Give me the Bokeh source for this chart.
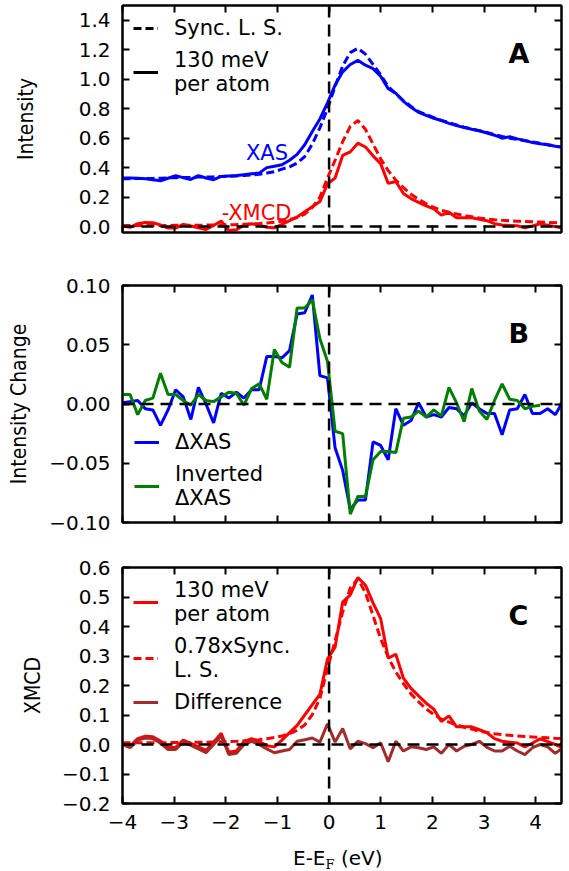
from bokeh.plotting import figure
from bokeh.models import (Range1d, LinearAxis, FixedTicker, Span, Label,
                          Legend, LegendItem, Div)
from bokeh.layouts import column
from bokeh.embed import file_html
from bokeh.resources import INLINE

# ---------------- data ----------------
energy = [-4.000, -3.853, -3.706, -3.559, -3.412, -3.265, -3.118, -2.971, -2.824, -2.677,
          -2.530, -2.383, -2.236, -2.089, -1.942, -1.795, -1.648, -1.501, -1.354, -1.207,
          -1.060, -0.913, -0.766, -0.619, -0.472, -0.325, -0.178, -0.031, 0.116, 0.263,
          0.410, 0.557, 0.704, 0.851, 0.998, 1.145, 1.292, 1.439, 1.586, 1.733,
          1.880, 2.027, 2.174, 2.321, 2.468, 2.615, 2.762, 2.909, 3.056, 3.203,
          3.350, 3.497, 3.644, 3.791, 3.938, 4.085, 4.232, 4.379, 4.526]

xas_130 = [0.329, 0.329, 0.328, 0.325, 0.318, 0.311, 0.328, 0.345, 0.332, 0.320,
           0.346, 0.330, 0.318, 0.340, 0.343, 0.346, 0.352, 0.358, 0.363, 0.400,
           0.410, 0.420, 0.450, 0.490, 0.555, 0.645, 0.730, 0.840, 0.960, 1.050,
           1.100, 1.128, 1.095, 1.072, 1.020, 0.935, 0.905, 0.850, 0.810, 0.775,
           0.755, 0.735, 0.720, 0.700, 0.685, 0.672, 0.660, 0.650, 0.635, 0.620,
           0.600, 0.610, 0.595, 0.585, 0.570, 0.562, 0.555, 0.545, 0.538]

xas_sync = [0.325, 0.325, 0.326, 0.326, 0.327, 0.328, 0.330, 0.332, 0.333, 0.334,
            0.336, 0.337, 0.338, 0.340, 0.342, 0.344, 0.347, 0.350, 0.355, 0.363,
            0.372, 0.390, 0.405, 0.430, 0.475, 0.560, 0.670, 0.800, 0.950, 1.090,
            1.180, 1.210, 1.170, 1.100, 1.030, 0.950, 0.900, 0.855, 0.815, 0.780,
            0.760, 0.740, 0.720, 0.705, 0.690, 0.675, 0.662, 0.650, 0.638, 0.625,
            0.612, 0.600, 0.592, 0.583, 0.574, 0.565, 0.556, 0.547, 0.538]

xmcd_130 = [0.004, -0.005, 0.020, 0.028, 0.026, 0.012, -0.010, -0.010, 0.015, 0.004,
            -0.008, -0.020, 0.008, 0.038, -0.026, -0.022, 0.010, 0.020, 0.010, -0.004,
            -0.008, 0.015, 0.040, 0.065, 0.100, 0.135, 0.170, 0.290, 0.330, 0.483,
            0.507, 0.566, 0.540, 0.480, 0.427, 0.293, 0.306, 0.225, 0.190, 0.165,
            0.140, 0.120, 0.078, 0.097, 0.060, 0.060, 0.060, 0.050, 0.040, 0.020,
            0.011, 0.008, 0.005, -0.008, 0.005, 0.019, 0.010, 0.000, -0.011]

xmcd_sync = [0.008, 0.008, 0.008, 0.008, 0.008, 0.008, 0.008, 0.009, 0.009, 0.009,
             0.010, 0.010, 0.011, 0.012, 0.013, 0.014, 0.016, 0.018, 0.021, 0.025,
             0.030, 0.037, 0.047, 0.062, 0.085, 0.130, 0.200, 0.330, 0.450, 0.576,
             0.680, 0.720, 0.660, 0.560, 0.460, 0.380, 0.315, 0.265, 0.220, 0.185,
             0.155, 0.130, 0.110, 0.097, 0.085, 0.075, 0.067, 0.058, 0.052, 0.047,
             0.043, 0.040, 0.037, 0.035, 0.033, 0.031, 0.029, 0.027, 0.026]

sync_scale = 0.78
xmcd_sync_scaled = [sync_scale * v for v in xmcd_sync]

xmcd_diff = [0.000, -0.011, 0.015, 0.022, 0.020, 0.005, -0.017, -0.017, 0.008, -0.003,
             -0.015, -0.028, 0.000, 0.030, -0.034, -0.030, 0.000, 0.011, 0.000, -0.015,
             -0.028, -0.022, -0.017, 0.011, 0.016, 0.022, 0.008, 0.070, 0.008, 0.054,
             -0.015, 0.011, 0.003, -0.011, 0.006, -0.058, 0.011, -0.022, -0.008, -0.011,
             -0.017, -0.008, -0.030, 0.000, -0.022, -0.006, 0.000, 0.011, -0.010, -0.022,
             -0.022, -0.006, -0.022, -0.034, -0.011, 0.000, -0.008, -0.030, -0.011]

dxas = [0.001, 0.002, 0.003, -0.004, -0.005, -0.018, -0.005, 0.012, 0.006, -0.013,
        0.014, 0.000, -0.016, 0.009, 0.005, 0.010, 0.005, 0.012, 0.012, 0.040,
        0.040, 0.039, 0.045, 0.076, 0.077, 0.092, 0.024, 0.022, -0.037, -0.056,
        -0.089, -0.081, -0.081, -0.032, -0.035, -0.047, -0.004, -0.018, -0.014, 0.001,
        -0.011, -0.009, -0.011, -0.003, -0.004, -0.010, 0.001, -0.004, -0.008, -0.008,
        -0.026, -0.005, -0.004, 0.008, -0.008, -0.008, -0.004, -0.009, 0.002]

dxas_inverted = [0.008, 0.008, -0.009, 0.003, 0.005, 0.026, 0.008, 0.008, 0.003, -0.001,
                 0.008, 0.003, 0.002, 0.006, 0.010, 0.009, -0.001, 0.013, 0.017, 0.004,
                 0.046, 0.035, 0.031, 0.081, 0.081, 0.088, 0.055, 0.036, -0.023, -0.025,
                 -0.093, -0.078, -0.078, -0.047, -0.040, -0.040, -0.041, -0.012, -0.011, -0.006,
                 -0.011, -0.005, -0.010, 0.014, 0.001, -0.015, 0.013, -0.006, -0.013, 0.003,
                 0.017, 0.004, 0.003, -0.004, -0.002, -0.001]

x_ticks = [-4, -3, -2, -1, 0, 1, 2, 3, 4]
x_tick_labels = ["\u22124", "\u22123", "\u22122", "\u22121", "0", "1", "2", "3", "4"]
yA_ticks = [0.0, 0.2, 0.4, 0.6, 0.8, 1.0, 1.2, 1.4]
yA_tick_labels = ["0.0", "0.2", "0.4", "0.6", "0.8", "1.0", "1.2", "1.4"]
yB_ticks = [-0.1, -0.05, 0.0, 0.05, 0.1]
yB_tick_labels = ["\u22120.10", "\u22120.05", "0.00", "0.05", "0.10"]
yC_ticks = [-0.2, -0.1, 0.0, 0.1, 0.2, 0.3, 0.4, 0.5, 0.6]
yC_tick_labels = ["\u22120.2", "\u22120.1", "0.0", "0.1", "0.2", "0.3", "0.4", "0.5", "0.6"]

# ---------------- styling ----------------
FONT = "DejaVu Sans"
YLABEL_FONT = "DejaVu Sans Condensed, Liberation Sans Narrow, DejaVu Sans"
BLUE = "#0000ff"
RED = "#ff0000"
GREEN = "#008000"
BROWN = "#a52a2a"
LW = 3
DASH = "8 4"
REF_DASH = "12 7"
BORDER_L = 122
FRAME_W = 439
BORDER_R = 8
NAN = float("nan")


def style_axis(ax, ticks, labels, show):
    ax.ticker = FixedTicker(ticks=ticks)
    ax.axis_line_color = "black"
    ax.axis_line_width = 2
    ax.major_tick_in = 7
    ax.major_tick_out = 0
    ax.major_tick_line_color = "black"
    ax.major_tick_line_width = 2
    ax.minor_tick_line_color = None
    if show:
        ax.major_label_overrides = dict(zip(ticks, labels))
        ax.major_label_text_font = FONT
        ax.major_label_text_font_size = "20px"
        ax.major_label_text_color = "black"
        ax.major_label_standoff = 12
    else:
        ax.major_label_overrides = {t: "" for t in ticks}
        ax.major_label_text_font_size = "1px"
        ax.major_label_standoff = 0


def make_fig(letter, frame_h, top, bottom, y_lo, y_hi, yticks, ylabels, ylabel,
             label_standoff, show_x):
    p = figure(frame_width=FRAME_W, frame_height=frame_h,
               x_range=Range1d(-4, 4.5), y_range=Range1d(y_lo, y_hi),
               output_backend="svg", toolbar_location=None,
               min_border_left=BORDER_L, min_border_right=BORDER_R,
               min_border_top=top, min_border_bottom=bottom)
    p.xgrid.visible = False
    p.ygrid.visible = False
    p.outline_line_color = "black"
    p.outline_line_width = 2
    style_axis(p.xaxis[0], x_ticks, x_tick_labels, show_x)
    if show_x:
        p.xaxis[0].major_label_standoff = 11
    style_axis(p.yaxis[0], yticks, ylabels, True)
    ya = p.yaxis[0]
    ya.axis_label = ylabel
    ya.axis_label_text_font = YLABEL_FONT
    ya.axis_label_text_font_style = "normal"
    ya.axis_label_text_font_size = "21px"
    ya.axis_label_text_color = "black"
    ya.axis_label_standoff = label_standoff
    top_ax = LinearAxis()
    style_axis(top_ax, x_ticks, x_tick_labels, False)
    p.add_layout(top_ax, "above")
    right_ax = LinearAxis()
    style_axis(right_ax, yticks, ylabels, False)
    p.add_layout(right_ax, "right")
    p.add_layout(Span(location=0, dimension="width", line_color="black",
                      line_width=2.5, line_dash=REF_DASH))
    p.add_layout(Span(location=0, dimension="height", line_color="black",
                      line_width=2.5, line_dash=REF_DASH))
    p.add_layout(Label(x=386, y=frame_h - 48, x_units="screen", y_units="screen",
                       text=letter, text_font=FONT, text_font_style="bold",
                       text_font_size="27px", text_color="black",
                       text_baseline="alphabetic"))
    return p


def make_legend(items, location, margin=3):
    return Legend(items=items, location=location,
                  label_text_font=FONT, label_text_font_size="21px",
                  label_text_color="black", label_text_line_height=1.1,
                  glyph_width=25, glyph_height=22, label_standoff=16,
                  spacing=8, padding=8, margin=margin,
                  background_fill_alpha=0, border_line_alpha=0)


# ---------------- panel A ----------------
pA = make_fig("A", 227, 5, 26, -0.04, 1.5, yA_ticks, yA_tick_labels, "Intensity", 38, False)
pA.line(energy, xas_sync, line_color=BLUE, line_width=LW, line_dash=DASH)
pA.line(energy, xas_130, line_color=BLUE, line_width=LW)
pA.line(energy, xmcd_sync, line_color=RED, line_width=LW, line_dash=DASH)
pA.line(energy, xmcd_130, line_color=RED, line_width=LW)
# legend proxies (black key lines, no data of their own)
kA_dash = pA.line(x=[NAN, NAN], y=[NAN, NAN], line_color="black", line_width=LW,
                  line_dash=DASH)
kA_solid = pA.line(x=[NAN, NAN], y=[NAN, NAN], line_color="black", line_width=LW)
pA.add_layout(make_legend([LegendItem(label="Sync. L. S.", renderers=[kA_dash]),
                           LegendItem(label="130 meV\nper atom", renderers=[kA_solid])],
                          "top_left"))
pA.add_layout(Label(x=-1.61, y=0.50, text="XAS", text_color=BLUE, text_font=FONT,
                    text_font_size="21px", text_baseline="alphabetic"))
pA.add_layout(Label(x=-2.08, y=0.095, text="-XMCD", text_color=RED, text_font=FONT,
                    text_font_size="21px", text_baseline="alphabetic"))

# ---------------- panel B ----------------
pB = make_fig("B", 237, 27, 22, -0.1, 0.1, yB_ticks, yB_tick_labels, "Intensity Change", 15, False)
rB1 = pB.line(energy, dxas, line_color=BLUE, line_width=LW)
rB2 = pB.line(energy[:len(dxas_inverted)], dxas_inverted, line_color=GREEN, line_width=LW)
pB.add_layout(make_legend([LegendItem(label="\u0394XAS", renderers=[rB1]),
                           LegendItem(label="Inverted\n\u0394XAS", renderers=[rB2])],
                          "bottom_left", margin=4))

# ---------------- panel C ----------------
pC = make_fig("C", 236, 23, 40, -0.2, 0.6, yC_ticks, yC_tick_labels, "XMCD", 14, True)
rC1 = pC.line(energy, xmcd_130, line_color=RED, line_width=LW)
rC2 = pC.line(energy, xmcd_sync_scaled, line_color=RED, line_width=LW, line_dash=DASH)
rC3 = pC.line(energy, xmcd_diff, line_color=BROWN, line_width=LW)
pC.add_layout(make_legend([LegendItem(label="130 meV\nper atom", renderers=[rC1]),
                           LegendItem(label="0.78xSync.\nL. S.", renderers=[rC2]),
                           LegendItem(label="Difference", renderers=[rC3])],
                          "top_left"))

xlabel = Div(text=('<div style="font-family: \'DejaVu Sans\'; font-size: 20px; color: black; '
                   'padding-left: 293px; padding-top: 4px; line-height: 22px; '
                   'white-space: nowrap;">'
                   'E-E<sub style="font-family: \'DejaVu Serif\'; font-size: 13px; '
                   'line-height: 0; vertical-align: -4px;">F</sub> (eV)</div>'),
             width=BORDER_L + FRAME_W + BORDER_R, height=26, margin=0)

layout = column(pA, pB, pC, xlabel, spacing=0)
open("out.html", "w").write(file_html(layout, INLINE))
